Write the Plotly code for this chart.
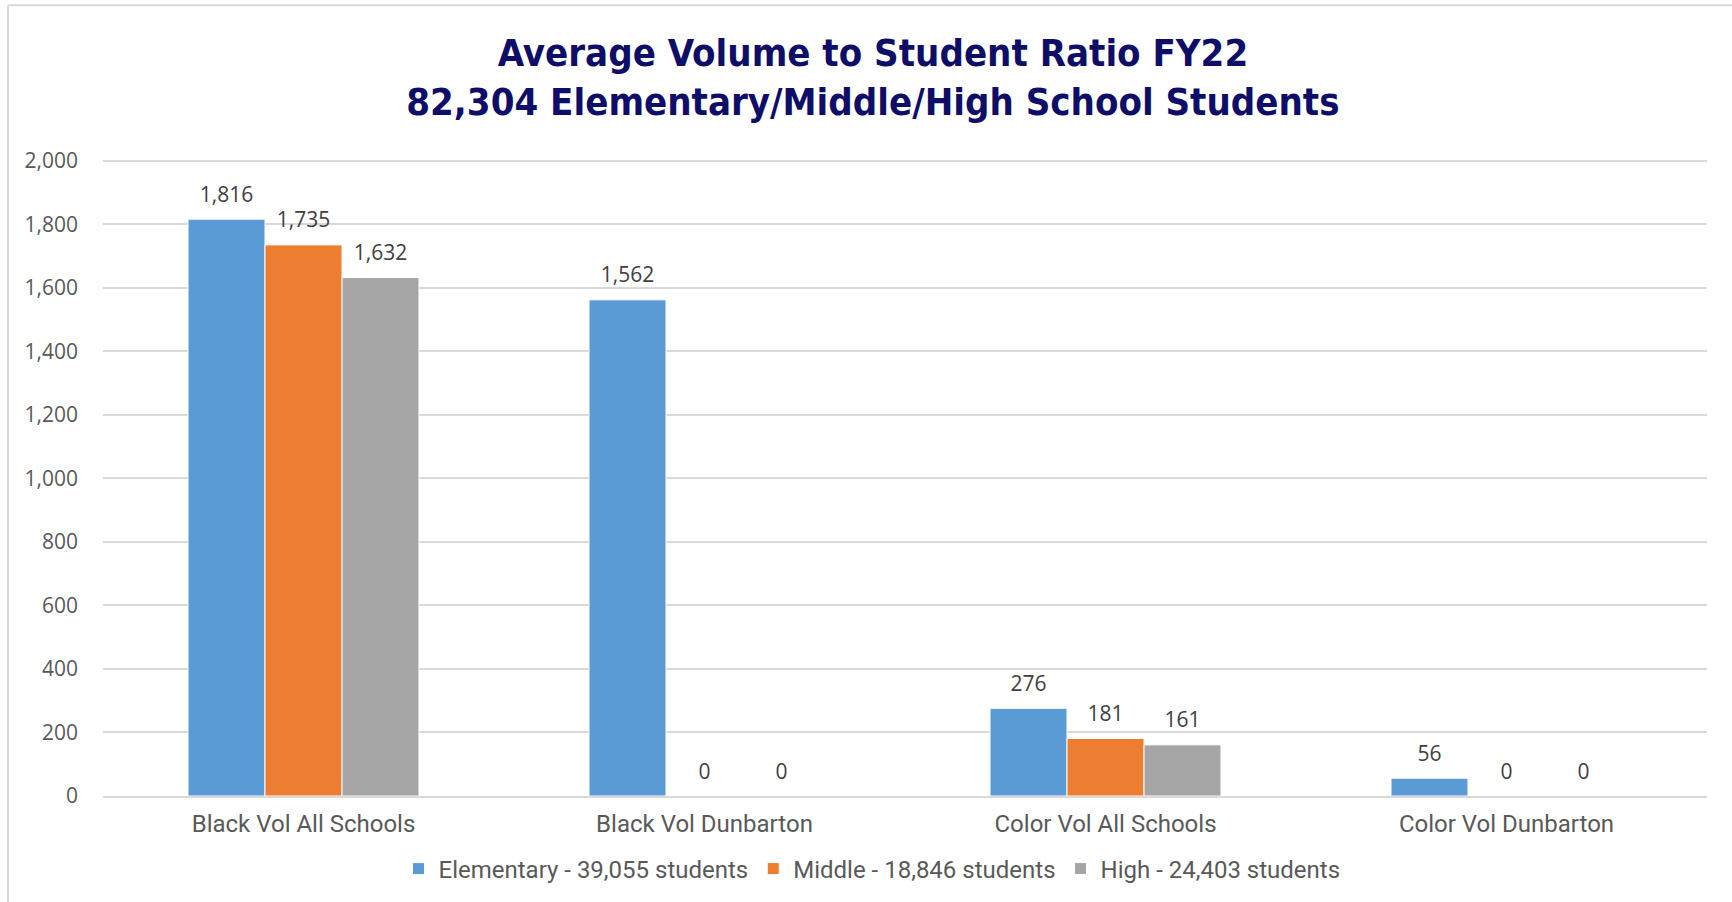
import plotly.graph_objects as go

# Categories and series values
categories = ["Black Vol All Schools", "Black Vol Dunbarton",
              "Color Vol All Schools", "Color Vol Dunbarton"]
elementary = [1816, 1562, 276, 56]
middle = [1735, 0, 181, 0]
high = [1632, 0, 161, 0]
series_names = ["Elementary - 39,055 students",
                "Middle - 18,846 students",
                "High - 24,403 students"]
series_colors = ["#5B9BD5", "#ED7D31", "#A5A5A5"]
y_ticks = [0, 200, 400, 600, 800, 1000, 1200, 1400, 1600, 1800, 2000]
y_max = 2040

W, H = 1732, 902
ML, MR, MT, MB = 103, 25, 148, 105
PW, PH = W - ML - MR, H - MT - MB

def px_x(px):
    return (px - ML) / PW

def px_y(py):
    return (H - MB - py) / PH

TITLE_FONT = "DejaVu Sans Condensed, sans-serif"
LABEL_FONT = "Roboto, sans-serif"
BODY = "Open Sans, Noto Sans, sans-serif"

fig = go.Figure()
for i, (name, vals, col) in enumerate(zip(series_names, [elementary, middle, high], series_colors)):
    fig.add_trace(go.Bar(
        x=categories, y=vals, name=name,
        offsetgroup=str(i), alignmentgroup="g",
        marker=dict(color=col, line=dict(color="white", width=1)),
        hovertemplate="%{x}<br>%{y:,}<extra>" + name + "</extra>",
    ))
    # value labels floated a little above each bar
    fig.add_trace(go.Scatter(
        x=categories, y=vals, mode="markers+text",
        offsetgroup=str(i), alignmentgroup="g",
        marker=dict(size=18, opacity=0, color=col),
        texttemplate="%{y:,}", textposition="top center",
        textfont=dict(family=BODY, size=21, color="#404040"),
        showlegend=False, hoverinfo="skip", cliponaxis=False,
    ))

fig.update_layout(
    width=W, height=H,
    margin=dict(l=ML, r=MR, t=MT, b=MB),
    paper_bgcolor="white", plot_bgcolor="white",
    barmode="group", bargap=0.424, bargroupgap=0,
    scattermode="group", scattergap=0.424,
    title=dict(
        text="Average Volume to Student Ratio FY22<br>82,304 Elementary/Middle/High School Students",
        x=0.504, xanchor="center", xref="container",
        y=1 - 66 / H, yanchor="middle", yref="container",
        font=dict(family=TITLE_FONT, size=38, color="#0E0E68", weight="bold"),
    ),
    showlegend=True,
    legend=dict(
        orientation="h", x=px_x(872), xanchor="center",
        y=px_y(869), yanchor="middle",
        font=dict(family=LABEL_FONT, size=24, color="#595959"),
        itemwidth=30, traceorder="normal",
    ),
    xaxis=dict(
        showgrid=False, showline=True, linecolor="#D9D9D9", linewidth=2,
        ticks="", ticklabelstandoff=5,
        tickfont=dict(family=LABEL_FONT, size=24, color="#595959"),
    ),
    yaxis=dict(
        range=[0, y_max], tickvals=y_ticks, tickformat=",",
        showgrid=True, gridcolor="#D9D9D9", gridwidth=2,
        zeroline=False, showline=False, ticks="",
        ticklabelstandoff=24,
        tickfont=dict(family=BODY, size=21, color="#595959"),
    ),
    shapes=[
        # chart frame: left and top edges
        dict(type="line", xref="paper", yref="paper",
             x0=px_x(8), x1=px_x(8), y0=px_y(5), y1=px_y(H + 5),
             line=dict(color="#D9D9D9", width=2)),
        dict(type="line", xref="paper", yref="paper",
             x0=px_x(8), x1=px_x(W + 5), y0=px_y(5), y1=px_y(5),
             line=dict(color="#D9D9D9", width=2)),
    ],
)

fig.write_html("out.html")
